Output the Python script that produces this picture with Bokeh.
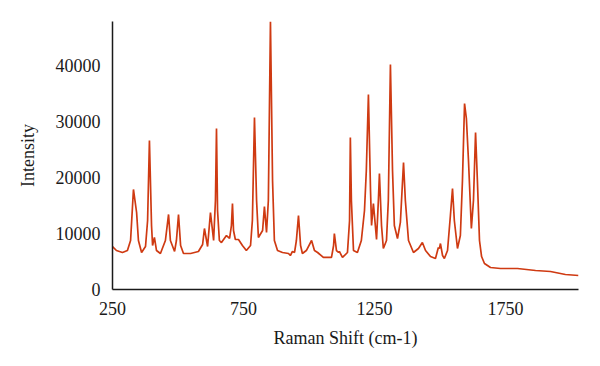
from bokeh.plotting import figure
from bokeh.models import Range1d, FixedTicker, ColumnDataSource
from bokeh.embed import file_html
from bokeh.resources import INLINE

# Raman spectrum
raman_shift = [250, 265, 288, 307, 319, 330, 342, 349, 361, 376, 384, 391, 399, 403, 410, 418,
               433, 452, 464, 471, 487, 494, 502, 510, 521, 548, 578, 594, 601, 613, 624, 636,
               643, 647, 651, 658, 666, 685, 697, 704, 708, 712, 719, 731, 746, 761, 777, 784,
               792, 800, 807, 823, 830, 838, 845, 853, 861, 868, 880, 899, 922, 929, 937, 945,
               952, 960, 968, 975, 990, 1010, 1021, 1033, 1055, 1086, 1094, 1097, 1105, 1113,
               1116, 1128, 1147, 1155, 1158, 1162, 1170, 1185, 1200, 1212, 1219, 1227, 1235,
               1239, 1246, 1250, 1258, 1265, 1269, 1277, 1284, 1296, 1303, 1311, 1319, 1326,
               1338, 1349, 1361, 1368, 1380, 1399, 1418, 1433, 1445, 1464, 1483, 1491, 1494,
               1498, 1502, 1510, 1517, 1529, 1540, 1548, 1555, 1567, 1578, 1586, 1594, 1601,
               1609, 1620, 1628, 1636, 1643, 1651, 1659, 1670, 1693, 1731, 1796, 1865, 1922,
               1979, 2029]
intensity = [7680, 6960, 6610, 6960, 8750, 17860, 13750, 8750, 6610, 7680, 12320, 26610, 11430,
             7860, 9290, 6960, 6430, 8750, 13400, 8750, 6790, 8750, 13400, 7860, 6430, 6430, 6790,
             8040, 10890, 7680, 13750, 8750, 15900, 28750, 14110, 8750, 8390, 9640, 9110, 11430,
             15360, 10540, 8930, 8930, 7860, 6960, 7860, 12320, 30720, 15900, 9290, 10540, 14820,
             10180, 15900, 47860, 19470, 8750, 6960, 6610, 6430, 6070, 6790, 6610, 8750, 13220,
             7860, 6430, 6960, 8750, 6960, 6610, 5720, 5720, 7860, 10000, 6960, 6610, 6790, 5720,
             6610, 12320, 27150, 15900, 6960, 6610, 8750, 14110, 21250, 34830, 17680, 11430,
             15360, 13220, 8930, 15900, 20720, 11430, 7320, 8750, 15900, 40180, 21250, 11430,
             9110, 11970, 22680, 15900, 8750, 6610, 7320, 8390, 6960, 5890, 5540, 6960, 7500,
             7320, 8210, 6070, 5540, 6960, 13220, 18040, 12320, 7320, 9640, 19470, 33220, 30540,
             23040, 10890, 15900, 28040, 19470, 8750, 5890, 4640, 3930, 3750, 3750, 3390, 3210,
             2680, 2500]

x_ticks = [250, 750, 1250, 1750]
y_ticks = [0, 10000, 20000, 30000, 40000]

FONT = "Liberation Serif"

src = ColumnDataSource(data=dict(x=raman_shift, y=intensity))

p = figure(width=584, height=350, output_backend="svg", toolbar_location=None,
           x_range=Range1d(250, 2029), y_range=Range1d(0, 47860),
           min_border_left=112, min_border_right=6, min_border_top=21, min_border_bottom=61)

p.line("x", "y", source=src, line_color="#cf3a12", line_width=1.7)

p.outline_line_color = None
p.xgrid.visible = False
p.ygrid.visible = False
p.background_fill_color = "white"
p.border_fill_color = "white"

p.xaxis.ticker = FixedTicker(ticks=x_ticks)
p.yaxis.ticker = FixedTicker(ticks=y_ticks)

for ax in (p.xaxis, p.yaxis):
    ax.axis_line_color = "#1a1a1a"
    ax.axis_line_width = 1.5
    ax.major_tick_line_color = None
    ax.minor_tick_line_color = None
    ax.major_label_text_font = FONT
    ax.major_label_text_font_size = "18px"
    ax.major_label_text_color = "#1a1a1a"
    ax.axis_label_text_font = FONT
    ax.axis_label_text_font_size = "18px"
    ax.axis_label_text_font_style = "normal"
    ax.axis_label_text_color = "#1a1a1a"

p.xaxis.axis_label = "Raman Shift (cm-1)"
p.yaxis.axis_label = "Intensity"
p.xaxis.major_label_standoff = 6
p.xaxis.axis_label_standoff = 10
p.yaxis.major_label_standoff = 6
p.yaxis.axis_label_standoff = 15

open("out.html", "w").write(file_html(p, INLINE))
